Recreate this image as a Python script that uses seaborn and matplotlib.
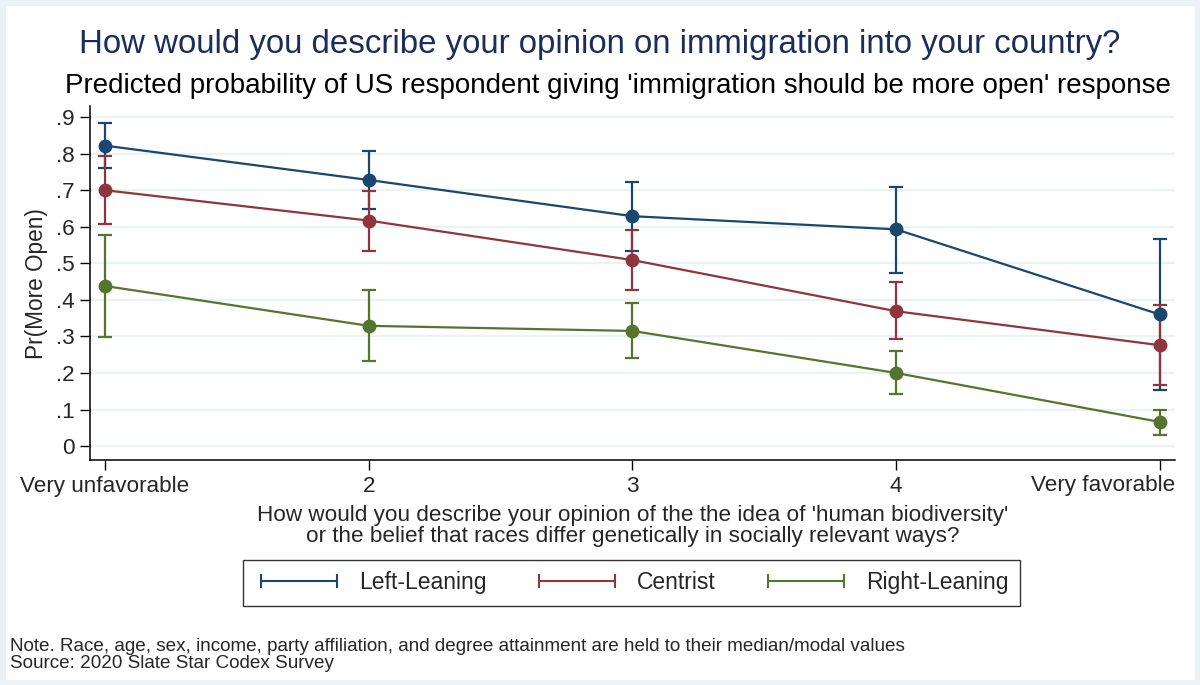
import numpy as np
import pandas as pd
import matplotlib
matplotlib.use("Agg")
import matplotlib.pyplot as plt
import seaborn as sns
from matplotlib.lines import Line2D
from matplotlib.patches import Rectangle

# values
x_labels = ["Very unfavorable", "2", "3", "4", "Very favorable"]
groups = ["Left-Leaning", "Centrist", "Right-Leaning"]
left_p = [0.822, 0.728, 0.629, 0.593, 0.360]
left_lo = [0.760, 0.649, 0.535, 0.474, 0.153]
left_hi = [0.884, 0.806, 0.722, 0.710, 0.567]
cent_p = [0.700, 0.617, 0.509, 0.369, 0.276]
cent_lo = [0.607, 0.535, 0.427, 0.292, 0.168]
cent_hi = [0.795, 0.699, 0.591, 0.448, 0.385]
right_p = [0.438, 0.329, 0.315, 0.200, 0.066]
right_lo = [0.299, 0.232, 0.240, 0.142, 0.030]
right_hi = [0.577, 0.427, 0.392, 0.259, 0.099]
colors = ["#1a476f", "#90353b", "#55752f"]

rows = []
for g, p, lo, hi in zip(groups, [left_p, cent_p, right_p],
                        [left_lo, cent_lo, right_lo], [left_hi, cent_hi, right_hi]):
    for i in range(len(x_labels)):
        rows.append({"x": i, "group": g, "p": p[i], "lo": lo[i], "hi": hi[i]})
df = pd.DataFrame(rows)

sns.set_theme(style="white")
plt.rcParams["font.family"] = ["Liberation Sans", "DejaVu Sans"]

fig = plt.figure(figsize=(12, 6.85), dpi=100)
fig.patch.set_facecolor("white")
ax = fig.add_axes([0.075, 0.328, 0.904, 0.517])

# error bars first, then connected lines with markers on top
for g, c in zip(groups, colors):
    d = df[df["group"] == g]
    ax.errorbar(d["x"], d["p"], yerr=[d["p"] - d["lo"], d["hi"] - d["p"]],
                fmt="none", ecolor=c, elinewidth=1.6, capsize=4.7, capthick=1.6, zorder=2)

sns.lineplot(data=df, x="x", y="p", hue="group", hue_order=groups, palette=colors,
             marker="o", markersize=10, markeredgewidth=0, linewidth=1.6,
             legend=False, ax=ax, zorder=3)

ax.set_xlim(-0.057, 4.057)
ax.set_ylim(-0.039, 0.93)
ax.set_xticks(range(len(x_labels)))
# last label is pushed left to stay inside the figure, like Stata does
ax.set_xticklabels(x_labels[:-1] + [""], fontsize=16.2)
ax.annotate(x_labels[-1], xy=(len(x_labels) - 1, 0), xycoords=("data", "axes fraction"),
            xytext=(15, -15), textcoords="offset pixels", ha="right", va="top",
            fontsize=16.2)
yt = np.arange(0, 1.0, 0.1)
ax.set_yticks(yt)
ax.set_yticklabels(["0"] + [f"{v:.1f}".lstrip("0") for v in yt[1:]], fontsize=16.2)
ax.yaxis.grid(True, color="#eaf2f3", linewidth=1.6)
ax.set_axisbelow(True)
ax.tick_params(axis="both", direction="out", length=7, width=1, color="black",
               left=True, bottom=True, pad=4)
for s in ["top", "right"]:
    ax.spines[s].set_visible(False)
for s in ["left", "bottom"]:
    ax.spines[s].set_color("black")
    ax.spines[s].set_linewidth(1.1)

ax.set_ylabel("Pr(More Open)", fontsize=16.3, labelpad=6)
ax.set_xlabel("How would you describe your opinion of the the idea of 'human biodiversity'\n"
              "or the belief that races differ genetically in socially relevant ways?",
              fontsize=16.2, labelpad=6, linespacing=1.0)

fig.text(0.5, 0.935, "How would you describe your opinion on immigration into your country?",
         ha="center", va="center", fontsize=23.8, color="#1c2d5a")
fig.text(0.515, 0.874,
         "Predicted probability of US respondent giving 'immigration should be more open' response",
         ha="center", va="center", fontsize=20, color="black")

handles = [Line2D([], [], color=c, linewidth=1.5, marker="|", markersize=10,
                  markeredgewidth=1.5) for c in colors]
leg = fig.legend(handles, groups, loc="center", bbox_to_anchor=(0.526, 0.149), ncol=3,
                 numpoints=2, fontsize=16.5, frameon=True, fancybox=False,
                 handlelength=3.9, columnspacing=2.0, handletextpad=0.66,
                 borderpad=0.5, borderaxespad=0)
leg.get_frame().set_edgecolor("black")
leg.get_frame().set_linewidth(1.0)

fig.text(0.008, 0.044,
         "Note. Race, age, sex, income, party affiliation, and degree attainment are held to their median/modal values\n"
         "Source: 2020 Slate Star Codex Survey",
         ha="left", va="center", fontsize=13.6, linespacing=1.0)

fig.patches.append(Rectangle((0, 0), 1, 1, transform=fig.transFigure, fill=False,
                             edgecolor="#eaf2f3", linewidth=8, zorder=10))

fig.savefig("out.png", dpi=100, facecolor="white")
